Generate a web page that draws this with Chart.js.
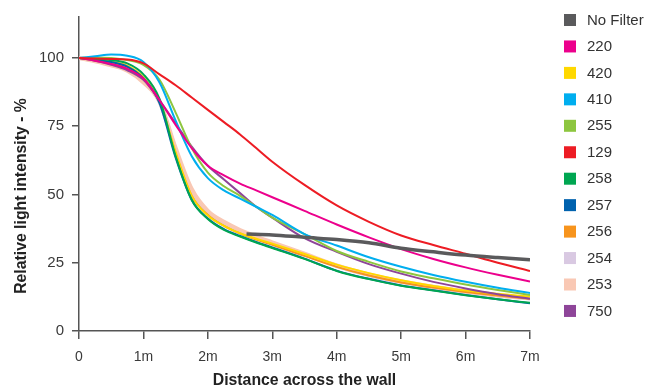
<!DOCTYPE html>
<html><head><meta charset="utf-8">
<script src="https://cdn.jsdelivr.net/npm/chart.js@4/dist/chart.umd.min.js"></script>
<style>html,body{margin:0;padding:0;background:#fff}#wrap{width:662px;height:387px;position:relative}</style>
</head><body><div id="wrap"><canvas id="c"></canvas></div>
<script>
// ---- data ----
const distances = [0,0.25,0.5,0.75,1,1.25,1.5,1.75,2,2.25,2.5,2.75,3,3.5,4,4.5,5,5.5,6,6.5,7];
const xTickLabels = ['0','1m','2m','3m','4m','5m','6m','7m'];
const yTickValues = [0,25,50,75,100];
const noFilterDistances = [2.6,3,3.5,4,4.5,5,5.5,6,6.5,7];
const noFilter = [35.5,35.2,34.3,33.5,32.3,30.3,29,27.8,26.9,26.1];
const f220 = [100,99,97.8,96,92.5,84.5,75.5,67,60.5,57,54,51.5,49,44,39,34.3,30,26.4,23.3,20.6,18.1];
const f420 = [100,99.5,98.7,97.2,93,84,65.5,49.5,42.3,38.5,35.8,33.8,32,28.2,24.3,21.2,18.6,16.5,14.8,13.6,12.6];
const f410 = [100,100.6,101.3,100.8,98.5,91,77,64,56,51.5,48.5,45.5,42.5,35.5,31.3,27,23.5,20.5,18,15.8,13.9];
const f255 = [100,100.2,100,99.2,97.5,92,80,67,58,53,49.5,45.5,41.5,35.5,29.3,25.3,21.8,19.3,17,15,13.2];
const f129 = [100,99.8,99.6,99.4,98,94,90,85.5,81,76.5,72,67,62,53.5,46,40,35,31.5,28.3,25,22];
const f258 = [100,99.6,99.2,98,94,85,64,48,41,37,34.6,32.4,30.4,26.4,22,19,16.6,14.8,13.1,11.6,10.3];
const f257 = [100,99.3,98.5,96.8,92.5,83.5,63.5,48,41.2,37.3,34.8,32.6,30.6,26.5,22.1,19.1,16.7,14.9,13.2,11.6,10.2];
const f256 = [100,99.2,98.2,96.5,92.2,84,65,49.5,42.5,38.5,35.7,33.5,31.6,27.5,23.5,20.3,17.8,15.9,14.3,13,11.8];
const f254 = [100,99,97.8,96,91.5,84,66,50.5,43.3,39.3,36.5,34.2,32.2,28,23.8,20.5,18,16.1,14.4,13,11.9];
const f253 = [100,98.8,97.3,95.3,91,84,67,52,44,40,37,34.6,32.5,28.3,24,20.7,18.2,16.2,14.5,13.1,12];
const f750 = [100,99,97.5,95.5,92,84.5,76,67.5,60.5,55.5,50.5,45.5,41.5,34,29,24.5,21,18,15.6,13.5,11.8];

const seriesNames  = ['No Filter','220','420','410','255','129','258','257','256','254','253','750'];
const seriesColors = ['#5a5a5c','#ec008c','#ffd800','#00aeef','#8dc63f','#ed1c24','#00a651','#0062ae','#f7941d','#d9c9e2','#f9c8b4','#8e4599'];
const seriesValues = [noFilter,f220,f420,f410,f255,f129,f258,f257,f256,f254,f253,f750];
const seriesWidths = [3.5,2,2,2,2,2,2,2,2,4,4,2];
const seriesOrder  = [0,2,6,3,3,1,5,5,7,9,8,3];

const datasets = seriesNames.map((name,i)=>{
  const xs = i===0 ? noFilterDistances : distances;
  return {
    label: name,
    data: seriesValues[i].map((v,j)=>({x: xs[j], y: v})),
    borderColor: seriesColors[i],
    backgroundColor: seriesColors[i],
    borderWidth: seriesWidths[i],
    pointRadius: 0,
    fill: false,
    cubicInterpolationMode: 'monotone',
    order: seriesOrder[i]
  };
});

const FONT = '"Liberation Sans", Arial, Helvetica, sans-serif';

const extras = {
  id: 'extras',
  afterDraw(chart){
    const ctx = chart.ctx;
    ctx.save();
    // legend
    ctx.font = '15px ' + FONT;
    ctx.textBaseline = 'middle';
    ctx.textAlign = 'left';
    chart.data.datasets.forEach((ds,i)=>{
      const cy = 20 + i*26.45;
      ctx.fillStyle = ds.borderColor;
      ctx.fillRect(564, cy-6, 12, 12);
      ctx.fillStyle = '#333';
      ctx.fillText(ds.label, 587, cy+0.5);
    });
    // axis titles
    const ca = chart.chartArea;
    ctx.fillStyle = '#222';
    ctx.font = 'bold 15.8px ' + FONT;
    ctx.textAlign = 'center';
    ctx.fillText('Distance across the wall', (ca.left+ca.right)/2, 381);
    ctx.translate(22, 196);
    ctx.rotate(-Math.PI/2);
    ctx.fillText('Relative light intensity - %', 0, 0);
    ctx.restore();
  }
};

new Chart(document.getElementById('c'), {
  type: 'line',
  data: { datasets },
  options: {
    responsive: true,
    maintainAspectRatio: false,
    animation: false,
    layout: { autoPadding: false, padding: { top: 0, right: 132, bottom: 0, left: 0 } },
    plugins: { legend: { display: false }, tooltip: { enabled: false } },
    scales: {
      x: {
        type: 'linear', min: 0, max: 7,
        afterFit: s => { s.height = 56; },
        afterBuildTicks: s => { s.ticks = xTickLabels.map((_,i)=>({value:i})); },
        ticks: { callback: (v)=> xTickLabels[Math.round(v)], font: { size: 14, family: FONT }, color: '#3a3a3a', padding: 10, maxRotation: 0 },
        grid: { drawOnChartArea: false, drawTicks: true, tickLength: 8, color: '#555', lineWidth: 1.5 },
        border: { display: true, color: '#555', width: 1.5 }
      },
      y: {
        type: 'linear', min: 0, max: 115,
        afterFit: s => { s.width = 79; },
        afterBuildTicks: s => { s.ticks = yTickValues.map(v=>({value:v})); },
        ticks: { font: { size: 15, family: FONT }, color: '#3a3a3a', padding: 8 },
        grid: { drawOnChartArea: false, drawTicks: true, tickLength: 7, color: '#555', lineWidth: 1.5 },
        border: { display: true, color: '#555', width: 1.5 }
      }
    }
  },
  plugins: [extras]
});
</script></body></html>
